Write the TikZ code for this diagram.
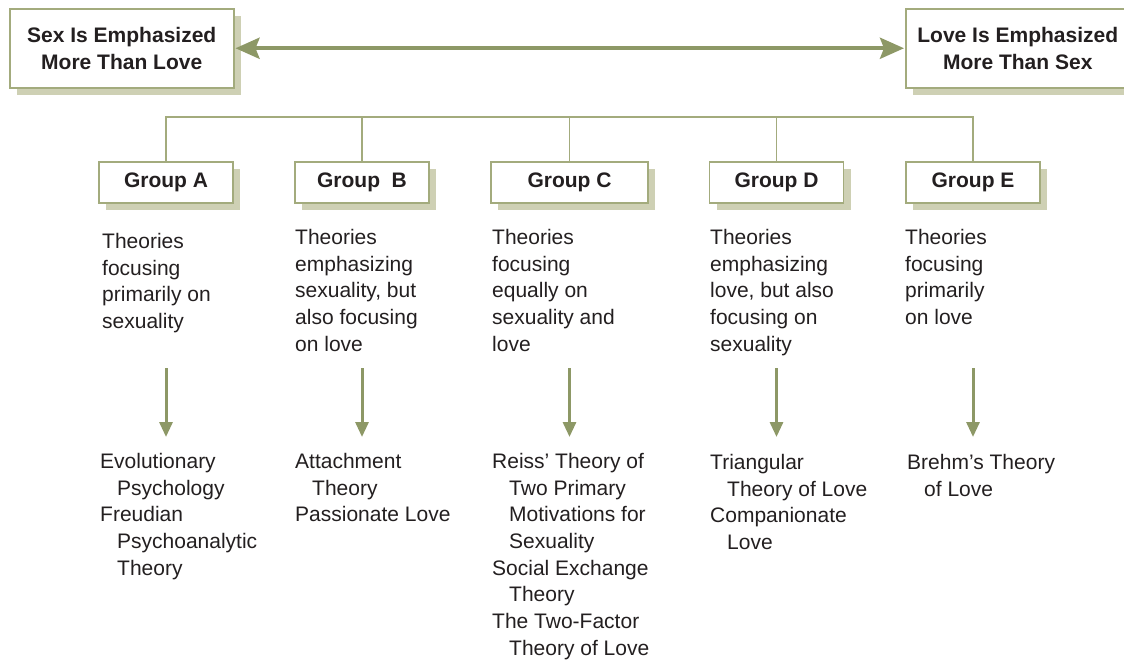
\documentclass[tikz,border=0pt]{standalone}
\usepackage{fontspec}
\setmainfont{Liberation Sans}
\usetikzlibrary{arrows.meta,shadows}
\definecolor{edgec}{RGB}{163,171,125}
\definecolor{shadc}{RGB}{206,208,180}
\definecolor{arrc}{RGB}{141,152,102}
\definecolor{txtc}{RGB}{35,31,32}
\newcommand{\hind}{\hspace*{17pt}}
\begin{document}
\begin{tikzpicture}[x=1pt,y=-1pt,
  box/.style={draw=edgec, line width=1.5pt, fill=white, inner sep=0pt,
    font=\fontsize{21}{27}\selectfont\bfseries, text=txtc, align=center,
    drop shadow={shadow xshift=7pt, shadow yshift=-7pt, fill=shadc, opacity=1}},
  topbox/.style={box, minimum width=224pt, minimum height=79pt, anchor=north west},
  gbox/.style={box, minimum width=134pt, minimum height=41pt},
  desc/.style={anchor=north west, inner sep=0pt, align=left, text=txtc,
    font=\fontsize{21}{26.7}\selectfont},
  tree/.style={draw=edgec, line width=1.5pt},
  varr/.style={draw=arrc, line width=3pt, -{Triangle[length=15pt,width=13pt]}},
  bigarr/.style={draw=arrc, line width=4pt,
    {Stealth[length=24pt,width=21pt,inset=4pt]}-{Stealth[length=24pt,width=21pt,inset=4pt]}}
]
\useasboundingbox (0,0) rectangle (1124,659);
\clip (0,0) rectangle (1124,659);

% top boxes
\node[topbox] (sex) at (9,8) {Sex Is Emphasized\\More Than Love};
\node[topbox] (love) at (905,8) {Love Is Emphasized\\More Than Sex};
\draw[bigarr, shorten <=1pt, shorten >=1pt] (sex.east) -- (love.west);

% group boxes
\node[gbox] (gA) at (166,182.5) {Group A};
\node[gbox] (gB) at (362,182.5) {Group\ \ B};
\node[gbox, minimum width=157pt] (gC) at (569.5,182.5) {Group C};
\node[gbox] (gD) at (776.5,182.5) {Group D};
\node[gbox] (gE) at (973,182.5) {Group E};

% tree
\coordinate (bus) at (0,117);
\draw[tree] (gA.north) -- (gA.north |- bus) -- (gE.north |- bus) -- (gE.north);
\draw[tree] (gB.north) -- (gB.north |- bus);
\draw[tree] (gC.north) -- (gC.north |- bus);
\draw[tree] (gD.north) -- (gD.north |- bus);

% descriptions
\node[desc] (dA) at (102,233) {Theories\\focusing\\primarily on\\sexuality};
\node[desc] (dB) at (295,229) {Theories\\emphasizing\\sexuality, but\\also focusing\\on love};
\node[desc] (dC) at (492,229) {Theories\\focusing\\equally on\\sexuality and\\love};
\node[desc] (dD) at (710,229) {Theories\\emphasizing\\love, but also\\focusing on\\sexuality};
\node[desc] (dE) at (905,229) {Theories\\focusing\\primarily\\on love};

% theories
\node[desc] (tA) at (100,453) {Evolutionary\\\hind Psychology\\Freudian\\\hind Psychoanalytic\\\hind Theory};
\node[desc] (tB) at (295,453) {Attachment\\\hind Theory\\Passionate Love};
\node[desc] (tC) at (492,453) {Reiss' Theory of\\\hind Two Primary\\\hind Motivations for\\\hind Sexuality\\Social Exchange\\\hind Theory\\The Two-Factor\\\hind Theory of Love};
\node[desc] (tD) at (710,454) {Triangular\\\hind Theory of Love\\Companionate\\\hind Love};
\node[desc] (tE) at (907,454) {Brehm's Theory\\\hind of Love};

% arrows
\coordinate (as) at (0,368);
\coordinate (ae) at (0,437);
\foreach \g in {gA,gB,gC,gD,gE}{
  \draw[varr] (\g.south |- as) -- (\g.south |- ae);
}
\end{tikzpicture}
\end{document}
